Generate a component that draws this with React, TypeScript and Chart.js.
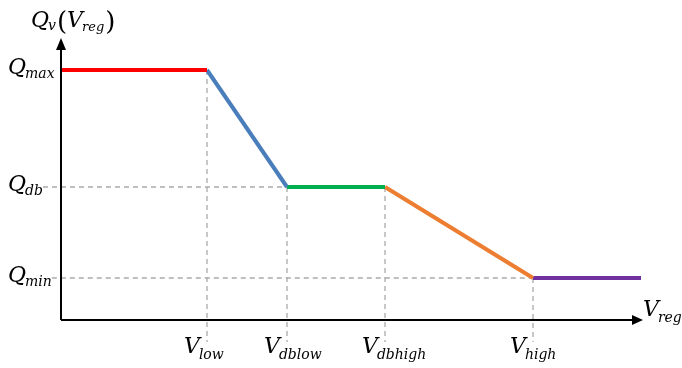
import { useEffect, useRef } from 'react';
import { Chart, registerables } from 'chart.js';

Chart.register(...registerables);

// Piecewise Q_v(V_reg) curve breakpoints (arbitrary units)
const segmentVreg = [0, 14.6, 22.6, 32.4, 47.2, 58.0];
const segmentQ = [25.0, 25.0, 13.3, 13.3, 4.2, 4.2];
const segmentColors = ['#ff0000', '#4a7ebb', '#00b050', '#ed7d31', '#7030a0'];

// Axis tick labels
const vTickNames = ['low', 'dblow', 'dbhigh', 'high'];
const vTickValues = [14.6, 22.6, 32.4, 47.2];
const qTickNames = ['max', 'db', 'min'];
const qTickValues = [25.0, 13.3, 4.2];

// Axis extents
const xRange = [-6.1, 62.1];
const yRange = [-4.8, 32.0];
const xAxisEnd = 58.2;
const yAxisEnd = 28.2;
const guideBottom = -2.2;

const FONT = '"DejaVu Serif", "Liberation Serif", serif';

function drawMath(
  ctx: CanvasRenderingContext2D, x: number, y: number, main: string, sub: string,
  drop: number, draw = true, mainSize = 22, subSize = 14,
) {
  ctx.font = `italic ${mainSize}px ${FONT}`;
  const w1 = ctx.measureText(main).width;
  ctx.font = `italic ${subSize}px ${FONT}`;
  const w2 = ctx.measureText(sub).width;
  if (draw) {
    ctx.fillStyle = '#000';
    ctx.textBaseline = 'alphabetic';
    ctx.textAlign = 'left';
    ctx.font = `italic ${mainSize}px ${FONT}`;
    ctx.fillText(main, x, y);
    ctx.font = `italic ${subSize}px ${FONT}`;
    ctx.fillText(sub, x + w1 - 1, y + drop);
  }
  return w1 + w2 - 1;
}

const guidePlugin = {
  id: 'guides',
  beforeDatasetsDraw(chart: any) {
    const ctx: CanvasRenderingContext2D = chart.ctx;
    const xs = chart.scales.x;
    const ys = chart.scales.y;
    ctx.save();
    ctx.strokeStyle = '#aaaaaa';
    ctx.lineWidth = 1.3;
    ctx.setLineDash([5, 4]);
    qTickNames.forEach((name, i) => {
      const q = qTickValues[i];
      const idx = segmentQ.indexOf(q);
      const v = segmentVreg[idx];
      if (v <= 0) return;
      const py = ys.getPixelForValue(q);
      const lw = drawMath(ctx, 0, 0, 'Q', name, 0, false);
      ctx.beginPath();
      ctx.moveTo(8 + lw, py);
      ctx.lineTo(xs.getPixelForValue(v), py);
      ctx.stroke();
    });
    vTickValues.forEach((v) => {
      const idx = segmentVreg.indexOf(v);
      const q = segmentQ[idx];
      const px = xs.getPixelForValue(v);
      ctx.beginPath();
      ctx.moveTo(px, ys.getPixelForValue(q));
      ctx.lineTo(px, ys.getPixelForValue(guideBottom));
      ctx.stroke();
    });
    ctx.restore();
  },
  afterDatasetsDraw(chart: any) {
    const ctx: CanvasRenderingContext2D = chart.ctx;
    const xs = chart.scales.x;
    const ys = chart.scales.y;
    const ox = xs.getPixelForValue(0);
    const oy = ys.getPixelForValue(0);
    const xe = xs.getPixelForValue(xAxisEnd);
    const ye = ys.getPixelForValue(yAxisEnd);
    ctx.save();
    ctx.strokeStyle = '#000';
    ctx.fillStyle = '#000';
    ctx.lineWidth = 2;
    ctx.setLineDash([]);
    ctx.beginPath();
    ctx.moveTo(ox, oy);
    ctx.lineTo(xe - 8, oy);
    ctx.moveTo(ox, oy);
    ctx.lineTo(ox, ye + 8);
    ctx.stroke();
    ctx.beginPath();
    ctx.moveTo(xe, oy);
    ctx.lineTo(xe - 11, oy - 5);
    ctx.lineTo(xe - 11, oy + 5);
    ctx.closePath();
    ctx.fill();
    ctx.beginPath();
    ctx.moveTo(ox, ye);
    ctx.lineTo(ox - 5, ye + 12);
    ctx.lineTo(ox + 5, ye + 12);
    ctx.closePath();
    ctx.fill();

    qTickNames.forEach((name, i) => {
      const py = ys.getPixelForValue(qTickValues[i]);
      drawMath(ctx, 8, py + 4, 'Q', name, 4);
    });
    vTickNames.forEach((name, i) => {
      const px = xs.getPixelForValue(vTickValues[i]);
      drawMath(ctx, px - 23, 353, 'V', name, 6);
    });
    drawMath(ctx, xe, oy - 4, 'V', 'reg', 6);
    let x = 31;
    x += drawMath(ctx, x, 27, 'Q', 'v', 3, true, 22, 14);
    ctx.font = `26px ${FONT}`;
    ctx.fillText('(', x + 1, 30);
    x += ctx.measureText('(').width + 1;
    x += drawMath(ctx, x, 27, 'V', 'reg', 4, true, 22, 13);
    ctx.font = `26px ${FONT}`;
    ctx.fillText(')', x + 1, 30);
    ctx.restore();
  },
};

export default function App() {
  const ref = useRef<HTMLCanvasElement>(null);
  useEffect(() => {
    if (!ref.current) return;
    const datasets = segmentColors.map((c, i) => ({
      data: [
        { x: segmentVreg[i], y: segmentQ[i] },
        { x: segmentVreg[i + 1], y: segmentQ[i + 1] },
      ],
      borderColor: c,
      backgroundColor: c,
      borderWidth: 4,
      showLine: true,
      pointRadius: 0,
      borderCapStyle: 'butt' as const,
    }));
    const chart = new Chart(ref.current, {
      type: 'scatter',
      data: { datasets },
      options: {
        animation: false,
        responsive: false,
        layout: { padding: 0 },
        plugins: { legend: { display: false }, tooltip: { enabled: false }, title: { display: false } },
        scales: {
          x: { type: 'linear', display: false, min: xRange[0], max: xRange[1] },
          y: { type: 'linear', display: false, min: yRange[0], max: yRange[1] },
        },
      },
      plugins: [guidePlugin],
    });
    return () => chart.destroy();
  }, []);
  return (
    <div style={{ position: 'absolute', left: 0, top: 0, width: 682, height: 368, background: '#fff' }}>
      <canvas ref={ref} width={682} height={368} style={{ display: 'block' }} />
    </div>
  );
}
